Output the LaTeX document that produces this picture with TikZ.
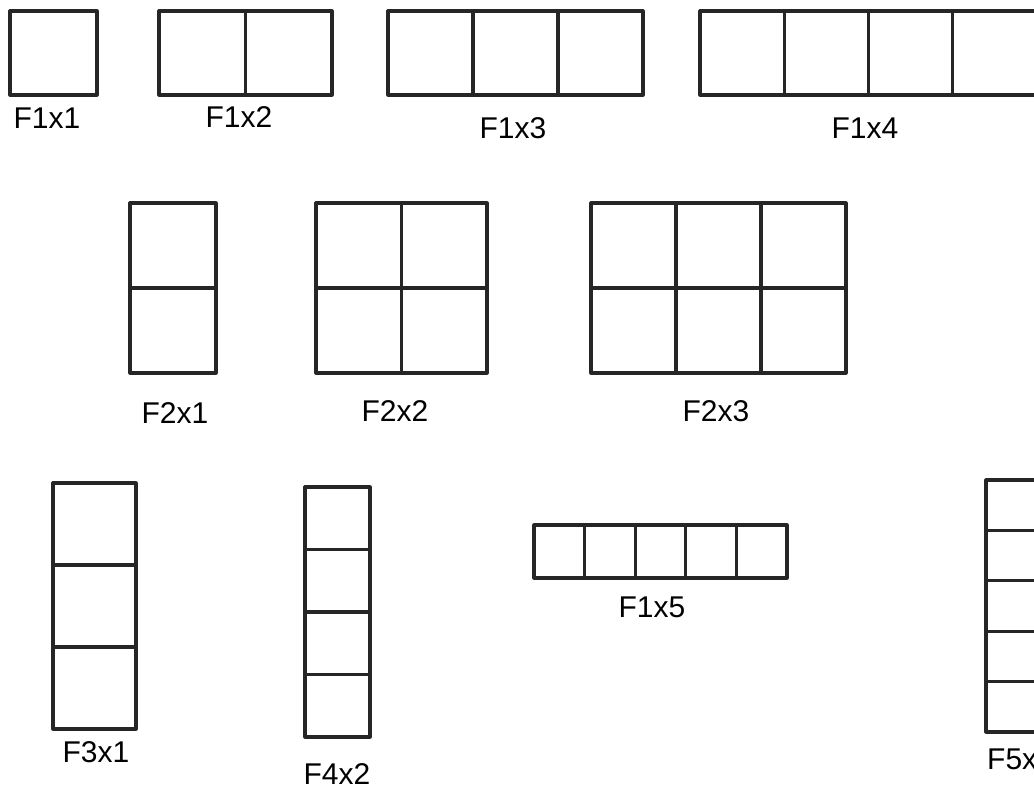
\documentclass[tikz,border=0pt]{standalone}
\usepackage{fontspec}
\setmainfont{Liberation Sans}
\usetikzlibrary{calc}
\begin{document}
\begin{tikzpicture}[x=1pt,y=-1pt,
  gridline/.style={draw=black!85,line width=3.2pt,line join=round},
  lbl/.style={inner sep=0pt,font=\fontsize{30}{32}\selectfont,text=black}]
\useasboundingbox (0,0) rectangle (1034,789);
\clip (0,0) rectangle (1034,789);
% \fgrid{name}{x0}{y0}{x1}{y1}{rows}{cols}
\newcommand\fgrid[7]{%
  \coordinate (#1-nw) at (#2,#3);
  \coordinate (#1-se) at (#4,#5);
  \foreach \i in {1,...,#6}{\ifnum\i<#6
    \draw[gridline] ($(#1-nw)!{\i/#6}!(#1-nw|-#1-se)$) -- ($(#1-se|-#1-nw)!{\i/#6}!(#1-se)$);\fi}
  \foreach \j in {1,...,#7}{\ifnum\j<#7
    \draw[gridline] ($(#1-nw)!{\j/#7}!(#1-se|-#1-nw)$) -- ($(#1-nw|-#1-se)!{\j/#7}!(#1-se)$);\fi}
  \draw[gridline] (#1-nw) rectangle (#1-se);
}
\fgrid{g11}{10}{11}{97}{95}{1}{1}
\fgrid{g12}{159}{11}{332}{95}{1}{2}
\fgrid{g13}{388}{11}{643}{95}{1}{3}
\fgrid{g14}{700}{11}{1037}{95}{1}{4}
\fgrid{g21}{130}{203}{216}{373}{2}{1}
\fgrid{g22}{316}{203}{487}{373}{2}{2}
\fgrid{g23}{591}{203}{846}{373}{2}{3}
\fgrid{g31}{53}{483}{136}{729}{3}{1}
\fgrid{g42}{305}{487}{370}{737}{4}{1}
\fgrid{g15}{534}{525}{787}{578}{1}{5}
\fgrid{g51}{986}{480}{1051}{732}{5}{1}
\node[lbl] (l11) at (47,118) {F1x1};
\node[lbl] (l12) at (239,117) {F1x2};
\node[lbl] (l13) at (513,128) {F1x3};
\node[lbl] (l14) at (865,128) {F1x4};
\node[lbl] (l21) at (175,413) {F2x1};
\node[lbl] (l22) at (395,411) {F2x2};
\node[lbl] (l23) at (716,411) {F2x3};
\node[lbl] (l31) at (96,752) {F3x1};
\node[lbl] (l42) at (337,774) {F4x2};
\node[lbl] (l15) at (652,607) {F1x5};
\node[lbl,anchor=west] (l51) at (987,759) {F5x1};
\end{tikzpicture}
\end{document}
